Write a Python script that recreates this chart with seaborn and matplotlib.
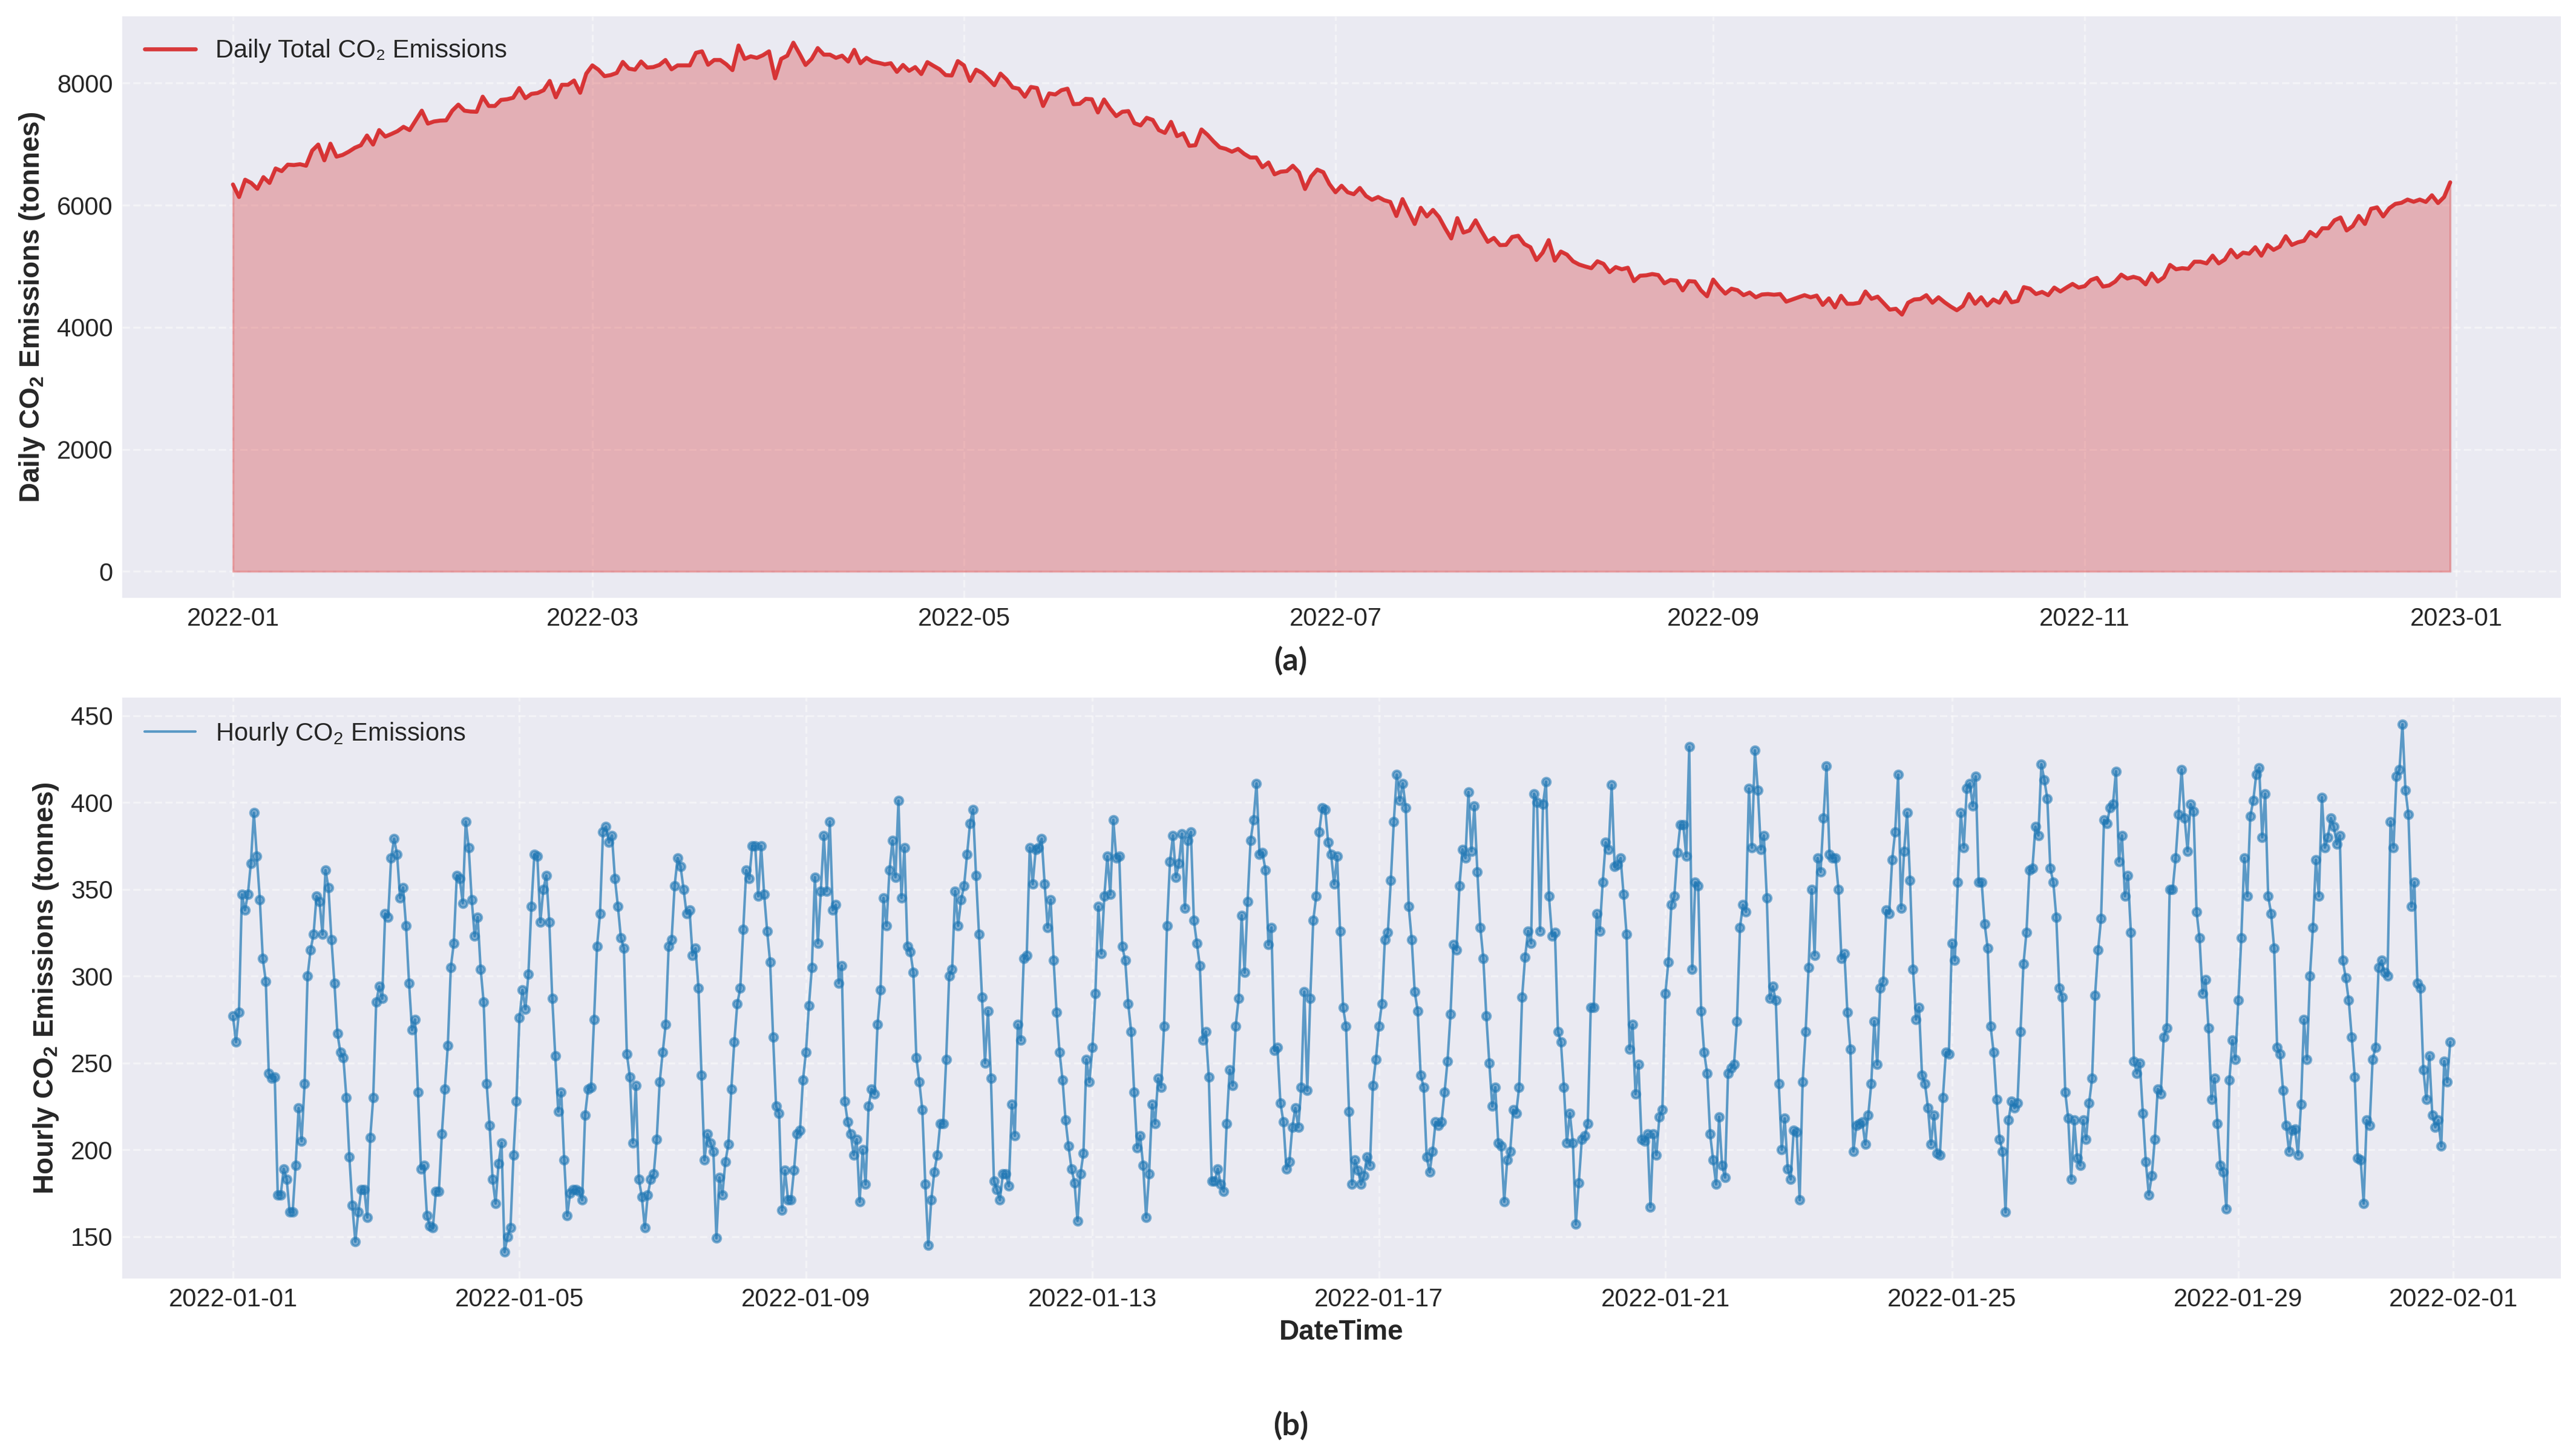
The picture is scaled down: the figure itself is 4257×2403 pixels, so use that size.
import numpy as np
import pandas as pd
import matplotlib
matplotlib.use("Agg")
import matplotlib.pyplot as plt
import matplotlib.dates as mdates
import seaborn as sns

# ---------------- data ----------------
daily_start = "2022-01-01"
daily_values = [
    6339, 6134, 6417, 6364, 6268, 6459, 6364, 6601, 6558, 6664,
    6657, 6671, 6646, 6894, 6993, 6735, 7007, 6795, 6823, 6876,
    6940, 6982, 7141, 6993, 7230, 7124, 7166, 7212, 7283, 7230,
    7389, 7548, 7336, 7371, 7385, 7389, 7548, 7647, 7548, 7534,
    7530, 7777, 7625, 7625, 7724, 7735, 7760, 7919, 7753, 7823,
    7837, 7883, 8035, 7767, 7972, 7972, 8042, 7841, 8155, 8290,
    8219, 8113, 8131, 8166, 8346, 8237, 8219, 8353, 8254, 8262,
    8297, 8378, 8226, 8290, 8290, 8290, 8495, 8520, 8300, 8378,
    8378, 8307, 8212, 8615, 8396, 8438, 8413, 8456, 8520, 8078,
    8396, 8449, 8661, 8484, 8297, 8396, 8573, 8466, 8466, 8413,
    8449, 8353, 8544, 8325, 8413, 8353, 8332, 8307, 8325, 8184,
    8297, 8201, 8262, 8148, 8343, 8283, 8226, 8131, 8124, 8360,
    8290, 8035, 8219, 8166, 8071, 7965, 8155, 8060, 7929, 7908,
    7777, 7936, 7919, 7625, 7830, 7813, 7883, 7908, 7654, 7661,
    7742, 7735, 7519, 7731, 7583, 7459, 7530, 7541, 7343, 7307,
    7431, 7396, 7230, 7184, 7364, 7131, 7177, 6972, 6982, 7240,
    7152, 7042, 6947, 6922, 6876, 6922, 6841, 6781, 6781, 6622,
    6699, 6505, 6548, 6558, 6646, 6540, 6265, 6470, 6583, 6540,
    6346, 6212, 6318, 6212, 6180, 6282, 6152, 6088, 6134, 6081,
    6053, 5823, 6099, 5894, 5692, 5957, 5816, 5922, 5805, 5622,
    5455, 5788, 5551, 5586, 5752, 5569, 5399, 5463, 5346, 5350,
    5480, 5498, 5364, 5311, 5102, 5222, 5427, 5092, 5240, 5190,
    5081, 5028, 4996, 4968, 5081, 5039, 4904, 4986, 4950, 4975,
    4756, 4844, 4851, 4872, 4855, 4720, 4774, 4763, 4604, 4756,
    4749, 4604, 4508, 4781, 4657, 4551, 4632, 4607, 4526, 4569,
    4491, 4537, 4544, 4533, 4544, 4420, 4455, 4491, 4526, 4491,
    4519, 4367, 4473, 4325, 4515, 4385, 4385, 4402, 4586, 4466,
    4501, 4395, 4289, 4303, 4208, 4402, 4455, 4463, 4526, 4402,
    4491, 4409, 4339, 4279, 4349, 4544, 4385, 4491, 4356, 4455,
    4402, 4572, 4409, 4431, 4657, 4632, 4544, 4579, 4526, 4650,
    4586, 4650, 4710, 4650, 4674, 4773, 4809, 4667, 4685, 4749,
    4862, 4798, 4826, 4798, 4703, 4880, 4749, 4819, 5021, 4950,
    4968, 4957, 5074, 5074, 5046, 5173, 5046, 5109, 5268, 5145,
    5222, 5205, 5311, 5173, 5349, 5268, 5321, 5491, 5349, 5392,
    5417, 5562, 5491, 5622, 5622, 5752, 5798, 5586, 5657, 5823,
    5692, 5940, 5964, 5816, 5950, 6021, 6039, 6092, 6056, 6092,
    6053, 6162, 6035, 6134, 6374,
]

hourly_start = "2022-01-01 00:00"
hourly_values = [
    277, 262, 279, 347, 338, 347, 365, 394, 369, 344, 310, 297, 244, 241, 242, 174, 174, 189, 183, 164, 164, 191, 224, 205,
    238, 300, 315, 324, 346, 343, 324, 361, 351, 321, 296, 267, 256, 253, 230, 196, 168, 147, 164, 177, 177, 161, 207, 230,
    285, 294, 287, 336, 334, 368, 379, 370, 345, 351, 329, 296, 269, 275, 233, 189, 191, 162, 156, 155, 176, 176, 209, 235,
    260, 305, 319, 358, 356, 342, 389, 374, 344, 323, 334, 304, 285, 238, 214, 183, 169, 192, 204, 141, 150, 155, 197, 228,
    276, 292, 281, 301, 340, 370, 369, 331, 350, 358, 331, 287, 254, 222, 233, 194, 162, 175, 177, 177, 176, 171, 220, 235,
    236, 275, 317, 336, 383, 386, 377, 381, 356, 340, 322, 316, 255, 242, 204, 237, 183, 173, 155, 174, 183, 186, 206, 239,
    256, 272, 317, 321, 352, 368, 363, 350, 336, 338, 312, 316, 293, 243, 194, 209, 204, 199, 149, 184, 174, 193, 203, 235,
    262, 284, 293, 327, 361, 356, 375, 375, 346, 375, 347, 326, 308, 265, 225, 221, 165, 188, 171, 171, 188, 209, 211, 240,
    256, 283, 305, 357, 319, 349, 381, 349, 389, 338, 341, 296, 306, 228, 216, 209, 197, 206, 170, 200, 180, 225, 235, 232,
    272, 292, 345, 329, 361, 378, 357, 401, 345, 374, 317, 314, 302, 253, 239, 223, 180, 145, 171, 187, 197, 215, 215, 252,
    300, 304, 349, 329, 344, 352, 370, 388, 396, 358, 324, 288, 250, 280, 241, 182, 177, 171, 186, 186, 179, 226, 208, 272,
    263, 310, 312, 374, 353, 373, 374, 379, 353, 328, 344, 309, 279, 256, 240, 217, 202, 189, 181, 159, 186, 198, 252, 239,
    259, 290, 340, 313, 346, 369, 347, 390, 368, 369, 317, 309, 284, 268, 233, 201, 208, 191, 161, 186, 226, 215, 241, 236,
    271, 329, 366, 381, 357, 365, 382, 339, 378, 383, 332, 319, 306, 263, 268, 242, 182, 182, 189, 180, 176, 215, 246, 237,
    271, 287, 335, 302, 343, 378, 390, 411, 370, 371, 361, 318, 328, 257, 259, 227, 216, 189, 193, 213, 224, 213, 236, 291,
    234, 287, 332, 346, 383, 397, 396, 377, 370, 353, 369, 326, 282, 271, 222, 180, 194, 188, 180, 185, 196, 191, 237, 252,
    271, 284, 321, 325, 355, 389, 416, 401, 411, 397, 340, 321, 291, 280, 243, 236, 196, 187, 199, 216, 214, 216, 233, 251,
    278, 318, 315, 352, 373, 368, 406, 372, 398, 360, 328, 310, 277, 250, 225, 236, 204, 202, 170, 194, 199, 223, 221, 236,
    288, 311, 326, 319, 405, 400, 326, 399, 412, 346, 323, 325, 268, 262, 236, 204, 221, 204, 157, 181, 206, 208, 215, 282,
    282, 336, 326, 354, 377, 373, 410, 363, 364, 368, 347, 324, 258, 272, 232, 249, 206, 205, 209, 167, 209, 197, 219, 223,
    290, 308, 341, 346, 371, 387, 387, 369, 432, 304, 354, 352, 280, 256, 244, 209, 194, 180, 219, 191, 184, 244, 247, 249,
    274, 328, 341, 337, 408, 374, 430, 407, 373, 381, 345, 287, 294, 286, 238, 200, 218, 189, 183, 211, 210, 171, 239, 268,
    305, 350, 312, 368, 360, 391, 421, 370, 368, 368, 350, 310, 313, 279, 258, 199, 214, 215, 216, 203, 220, 238, 274, 249,
    293, 297, 338, 336, 367, 383, 416, 339, 372, 394, 355, 304, 275, 282, 243, 238, 224, 203, 220, 198, 197, 230, 256, 255,
    319, 309, 354, 394, 374, 408, 411, 398, 415, 354, 354, 330, 316, 271, 256, 229, 206, 199, 164, 217, 228, 224, 227, 268,
    307, 325, 361, 362, 386, 381, 422, 413, 402, 362, 354, 334, 293, 288, 233, 218, 183, 217, 195, 191, 217, 206, 227, 241,
    289, 315, 333, 390, 388, 397, 399, 418, 366, 381, 346, 358, 325, 251, 244, 250, 221, 193, 174, 185, 206, 235, 232, 265,
    270, 350, 350, 368, 393, 419, 391, 372, 399, 395, 337, 322, 290, 298, 270, 229, 241, 215, 191, 187, 166, 240, 263, 252,
    286, 322, 368, 346, 392, 401, 416, 420, 380, 405, 346, 336, 316, 259, 255, 234, 214, 199, 211, 212, 197, 226, 275, 252,
    300, 328, 367, 346, 403, 374, 380, 391, 386, 376, 381, 309, 299, 286, 265, 242, 195, 194, 169, 217, 214, 252, 259, 305,
    309, 302, 300, 389, 374, 415, 419, 445, 407, 393, 340, 354, 296, 293, 246, 229, 254, 220, 213, 217, 202, 251, 239, 262,
]

daily_label = "Daily Total CO\u2082 Emissions"
hourly_label = "Hourly CO$_2$ Emissions"
daily_ylabel = r"Daily CO$_\mathbf{2}$ Emissions (tonnes)"
hourly_ylabel = r"Hourly CO$_\mathbf{2}$ Emissions (tonnes)"
x_label = "DateTime"
panel_labels = ["(a)", "(b)"]

red = "#d62728"
blue = "#1f77b4"

# ---------------- style ----------------
sns.set_theme(style="darkgrid")
plt.rcParams["font.family"] = ["Liberation Sans", "DejaVu Sans"]
plt.rcParams["mathtext.fontset"] = "custom"
plt.rcParams["mathtext.rm"] = "Liberation Sans"
plt.rcParams["mathtext.it"] = "Liberation Sans:italic"
plt.rcParams["mathtext.bf"] = "Liberation Sans:bold"

daily_df = pd.DataFrame({
    "date": pd.date_range(daily_start, periods=len(daily_values), freq="D"),
    "value": daily_values,
})
hourly_df = pd.DataFrame({
    "time": pd.date_range(hourly_start, periods=len(hourly_values), freq="h"),
    "value": hourly_values,
})

fig = plt.figure(figsize=(4257 / 300, 2403 / 300), dpi=300)
ax1 = fig.add_axes([0.0474, 0.5888, 0.9468, 0.4000])
ax2 = fig.add_axes([0.0474, 0.1207, 0.9468, 0.3993])

# ---- panel (a) ----
sns.lineplot(data=daily_df, x="date", y="value", ax=ax1, color=red,
             linewidth=1.6, alpha=0.9, label=daily_label)
ax1.fill_between(daily_df["date"], daily_df["value"], color=red, alpha=0.3, linewidth=0.8)
ax1.xaxis.set_major_locator(mdates.MonthLocator(bymonth=[1, 3, 5, 7, 9, 11]))
ax1.xaxis.set_major_formatter(mdates.DateFormatter("%Y-%m"))
ax1.set_xlabel("")
ax1.set_ylabel(daily_ylabel, fontsize=11, fontweight="bold")

# ---- panel (b) ----
sns.lineplot(data=hourly_df, x="time", y="value", ax=ax2, color=blue,
             linewidth=1.0, alpha=0.7, label=hourly_label)
ax2.plot(hourly_df["time"], hourly_df["value"], linestyle="none", marker="o",
         markersize=3.2, color=blue, alpha=0.55)
ax2.xaxis.set_major_locator(mdates.DayLocator(bymonthday=[1, 5, 9, 13, 17, 21, 25, 29]))
ax2.xaxis.set_major_formatter(mdates.DateFormatter("%Y-%m-%d"))
ax2.set_xlabel(x_label, fontsize=11, fontweight="bold", labelpad=3)
ax2.set_ylabel(hourly_ylabel, fontsize=11, fontweight="bold")

for ax in (ax1, ax2):
    ax.grid(True, linestyle="--", linewidth=0.8, color="white", alpha=0.45)
    ax.tick_params(axis="both", labelsize=10, colors=".15", length=0, pad=3.6)
    for s in ax.spines.values():
        s.set_visible(False)
    ax.legend(loc="upper left", frameon=False, fontsize=10)

fig.text(0.501, 0.5455, panel_labels[0], ha="center", va="center",
         fontsize=12.5, fontweight="bold", family=["Lato", "DejaVu Sans"])
fig.text(0.501, 0.0195, panel_labels[1], ha="center", va="center",
         fontsize=12.5, fontweight="bold", family=["Lato", "DejaVu Sans"])

fig.savefig("out.png", dpi=300)
